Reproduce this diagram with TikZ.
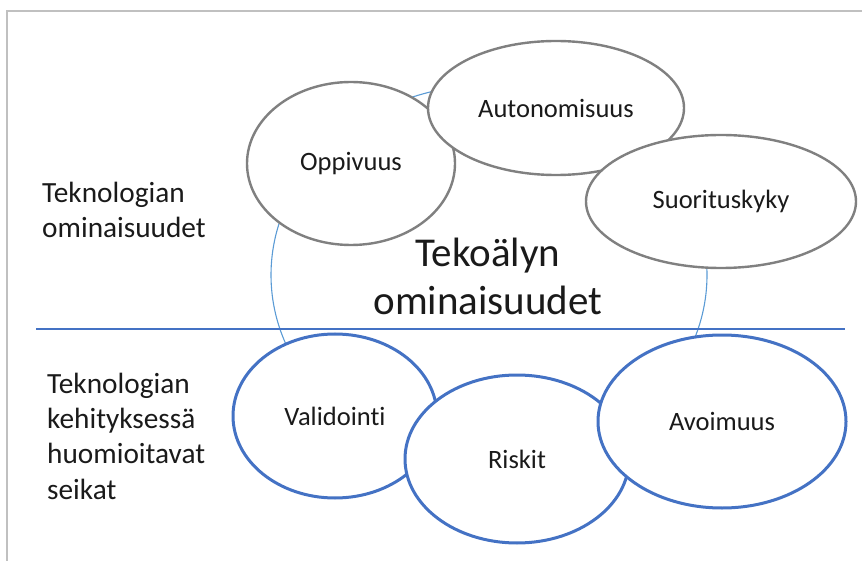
\documentclass[tikz,border=0pt]{standalone}
\usepackage{fontspec}
\setmainfont{Carlito}[Ligatures=NoCommon]
\usetikzlibrary{shapes.geometric}
\definecolor{graystroke}{HTML}{808080}
\definecolor{bluestroke}{HTML}{4472C4}
\definecolor{lightblue}{HTML}{5B9BD5}
\definecolor{framegray}{HTML}{C0C0C0}
\definecolor{textcol}{HTML}{1A1A1A}
\begin{document}
\begin{tikzpicture}[x=1pt,y=-1pt,
  grayell/.style={ellipse, draw=graystroke, line width=2.4pt, fill=white, inner sep=0pt, text=textcol, font=\fontsize{26.5}{30}\selectfont},
  blueell/.style={ellipse, draw=bluestroke, line width=3pt, fill=white, inner sep=0pt, text=textcol, font=\fontsize{26.5}{30}\selectfont},
  sidelabel/.style={anchor=west, align=left, inner sep=0pt, text=textcol, font=\fontsize{29.3}{35.3}\selectfont}
]
\useasboundingbox (0,0) rectangle (862,561);
% frame
\coordinate (ftr) at (862,11);
\coordinate (ftl) at (7,11);
\coordinate (fbl) at (7,561);
\draw[framegray, line width=2pt] (ftr) -- (ftl) -- (fbl);
% big thin ellipse
\node[ellipse, draw=lightblue, line width=1.1pt, minimum width=436pt, minimum height=380pt, inner sep=0pt] (big) at (489,275) {};
% separator line
\coordinate (sepl) at (36,329);
\coordinate (sepr) at (845,329);
\draw[bluestroke, line width=1.5pt] (sepl) -- (sepr);
% lower circles
\node[blueell, minimum width=204pt, minimum height=164pt] (val) at (335,416) {Validointi};
\node[blueell, minimum width=224pt, minimum height=168pt] (ris) at (517,459) {Riskit};
\node[blueell, minimum width=248pt, minimum height=173pt] (avo) at (722,421.5) {Avoimuus};
% upper ellipses
\node[grayell, minimum width=208pt, minimum height=163pt] (opp) at (351,163.5) {Oppivuus};
\node[grayell, minimum width=256pt, minimum height=134pt] (aut) at (556,108) {Autonomisuus};
\node[grayell, minimum width=270pt, minimum height=133pt] (suo) at (721,201.5) {Suorituskyky};
% texts
\node[align=center, inner sep=0pt, text=textcol, font=\fontsize{41}{48}\selectfont] (tek) at (488,276) {Tekoälyn\\ominaisuudet};
\node[sidelabel] (tom) at (42,210) {Teknologian\\ominaisuudet};
\node[sidelabel] (tke) at (47,436) {Teknologian\\kehityksessä\\huomioitavat\\seikat};
\end{tikzpicture}
\end{document}
